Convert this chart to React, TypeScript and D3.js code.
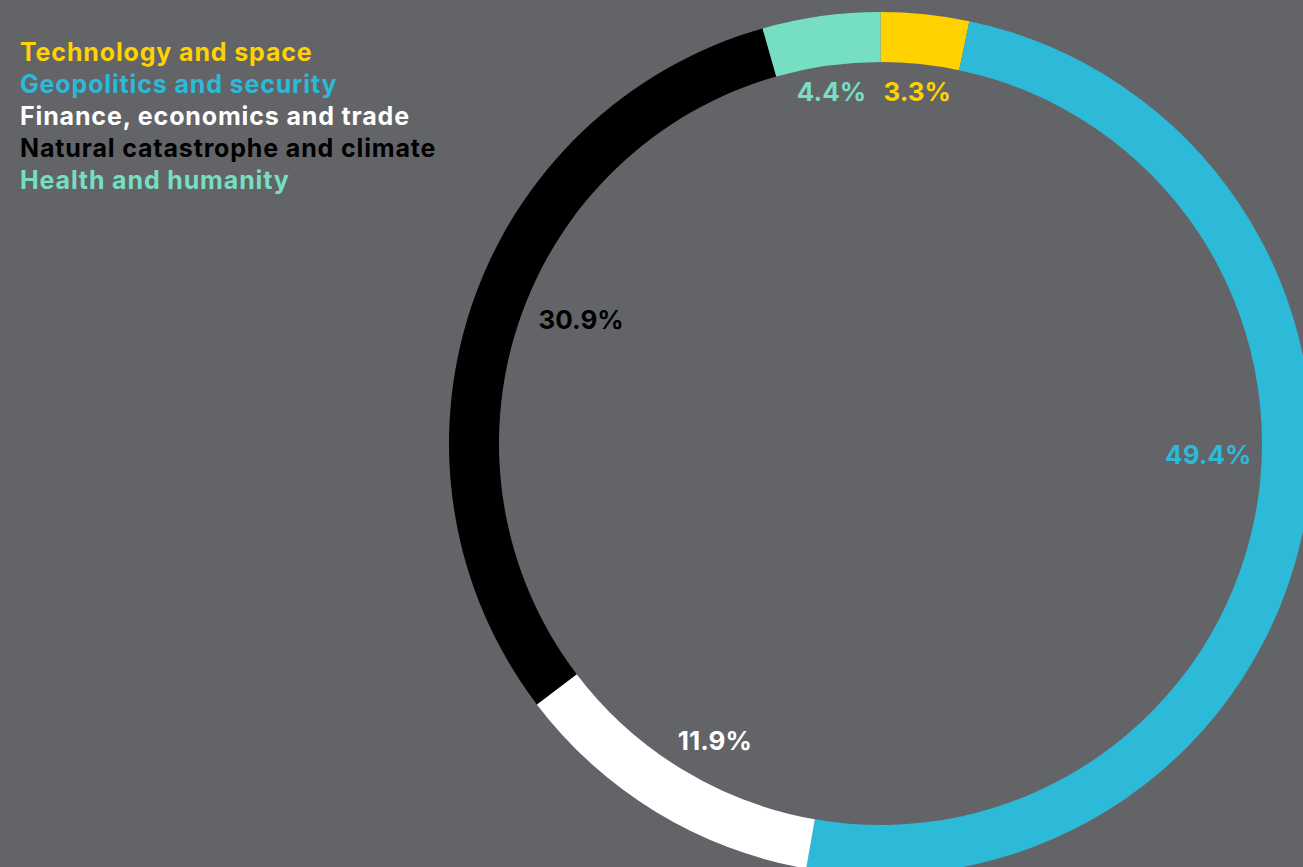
import React from "react";
import * as d3 from "d3";

// Share of risks by category (percent)
const categories = [
  "Technology and space",
  "Geopolitics and security",
  "Finance, economics and trade",
  "Natural catastrophe and climate",
  "Health and humanity",
];
const shares = [3.3, 49.4, 11.9, 30.9, 4.4];
const colors = ["#FFD200", "#2DB9D8", "#FFFFFF", "#000000", "#76DFC3"];

const W = 1303;
const H = 867;
const BG = "#636468";
const FONT = "Inter, 'Noto Sans', 'Liberation Sans', sans-serif";

// Donut geometry
const CX = 880.5;
const CY = 443.5;
const R_OUT = 431.5;
const R_IN = 381.5;

// Per-slice label placement tweaks: angle shift (deg) and label radius
const labelTweak: Record<string, { dAngle: number; r: number }> = {
  "Technology and space": { dAngle: 0, r: 354 },
  "Geopolitics and security": { dAngle: -9, r: 328 },
  "Finance, economics and trade": { dAngle: -2.2, r: 340 },
  "Natural catastrophe and climate": { dAngle: 4, r: 324 },
  "Health and humanity": { dAngle: 0, r: 355 },
};

export default function App() {
  const rows = categories.map((c, i) => ({ name: c, value: shares[i], color: colors[i] }));
  const pie = d3
    .pie<(typeof rows)[number]>()
    .value((d) => d.value)
    .sort(null);
  const arcs = pie(rows);
  const arc = d3
    .arc<d3.PieArcDatum<(typeof rows)[number]>>()
    .innerRadius(R_IN)
    .outerRadius(R_OUT);

  return (
    <svg
      width={W}
      height={H}
      style={{ position: "absolute", left: 0, top: 0, display: "block" }}
    >
      <rect width={W} height={H} fill={BG} />
      <g transform={`translate(${CX},${CY})`}>
        {arcs.map((a) => (
          <path key={a.data.name} d={arc(a) || ""} fill={a.data.color} />
        ))}
        {arcs.map((a) => {
          const t = labelTweak[a.data.name];
          const mid = (a.startAngle + a.endAngle) / 2 + (t.dAngle * Math.PI) / 180;
          const x = Math.sin(mid) * t.r;
          const y = -Math.cos(mid) * t.r;
          return (
            <text
              key={a.data.name + "-lbl"}
              x={x}
              y={y}
              textAnchor="middle"
              dominantBaseline="central"
              fill={a.data.color}
              fontFamily={FONT}
              fontWeight={700}
              fontSize={26}
            >
              {`${d3.format(".1f")(a.data.value)}%`}
            </text>
          );
        })}
      </g>
      <g>
        {rows.map((r, i) => (
          <text
            key={r.name}
            x={20}
            y={60.5 + i * 32}
            fill={r.color}
            fontFamily={FONT}
            fontWeight={700}
            fontSize={25}
            letterSpacing={0.85}
          >
            {r.name}
          </text>
        ))}
      </g>
    </svg>
  );
}
